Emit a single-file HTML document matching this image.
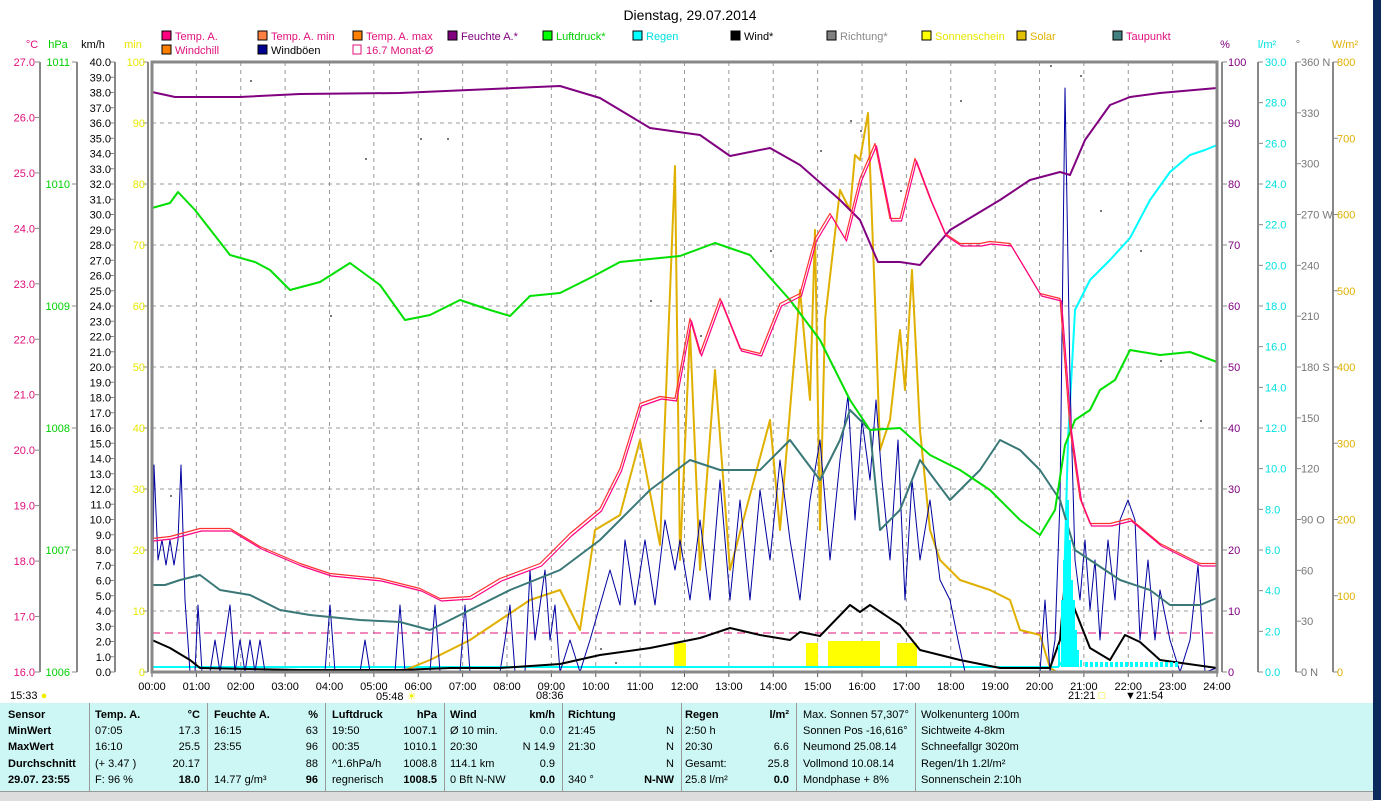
<!DOCTYPE html>
<html><head><meta charset="utf-8">
<style>
html,body{margin:0;padding:0;background:#fff;width:1381px;height:800px;overflow:hidden;font-family:"Liberation Sans",sans-serif;}
svg text{font-family:"Liberation Sans",sans-serif;font-size:11px;}
#tbl{position:absolute;left:0;top:703px;width:1373px;height:88px;background:#ccf7f4;font-size:11px;}
.c{position:absolute;top:0;height:88px;border-right:1px solid #999;}
.r{position:absolute;white-space:nowrap;}
.b{font-weight:bold;}
</style></head><body>
<svg id="s" width="1381" height="800" style="position:absolute;left:0;top:0">
<rect x="1373" y="0" width="8" height="800" fill="#0b2a5c"/>
<text x="690" y="20" text-anchor="middle" style="font-size:14px">Dienstag, 29.07.2014</text>
<g id="grid"></g>
<g id="axes"></g>
<line x1="152" y1="633" x2="1217" y2="633" stroke="#e0107a" stroke-dasharray="8,5" stroke-width="1"/>
<g fill="#ffff00">
<rect x="674" y="643" width="12" height="24"/>
<rect x="806" y="643" width="12" height="24"/>
<rect x="828" y="641" width="52" height="26"/>
<rect x="897" y="643" width="20" height="24"/>
</g>
<g fill="none" stroke-width="2" stroke-linejoin="round">
<polyline stroke="#00ffff" points="152,667 1058,667 1062,662 1068,440 1075,310 1090,280 1110,260 1130,238 1150,200 1170,172 1190,155 1205,150 1217,145"/>
<polyline stroke="#e0b000" points="400,672 430,660 470,640 500,620 530,600 560,590 580,630 595,530 620,515 640,440 660,545 675,166 680,560 690,330 700,570 715,370 730,570 770,420 780,530 800,290 810,400 815,230 820,530 825,320 840,190 850,210 855,155 860,160 868,113 875,300 880,450 890,420 900,330 905,390 912,270 920,430 930,530 940,560 960,580 990,590 1010,600 1020,630 1040,635 1050,668 1057,672"/>
<polyline stroke="#0000a0" stroke-width="1" points="152,672 154,465 158,560 162,540 166,565 170,540 174,565 178,540 181,465 185,600 190,672 195,672 198,605 202,672 210,672 215,640 220,672 230,605 235,672 240,640 245,672 250,640 255,672 260,640 265,672 325,672 330,605 335,672 360,672 365,640 370,672 395,672 400,605 405,672 430,672 435,605 440,672 460,672 465,605 470,672 500,672 505,640 510,605 515,672 525,672 530,570 535,640 540,605 545,570 550,640 555,605 560,672 570,640 580,672 590,640 600,605 610,570 620,605 625,540 635,605 645,540 655,605 665,520 675,570 680,540 690,600 700,520 710,600 720,480 730,600 740,500 750,600 760,490 770,560 780,460 790,540 800,600 810,500 820,440 830,560 840,460 848,395 855,520 862,420 870,480 876,400 882,480 890,560 898,440 905,600 912,480 920,560 930,500 940,580 950,600 958,640 965,672 1040,672 1045,600 1050,672 1055,640 1060,500 1065,88 1070,380 1075,560 1080,600 1085,540 1090,610 1095,560 1100,640 1108,540 1115,600 1120,520 1128,500 1135,520 1140,640 1148,560 1155,640 1160,590 1170,640 1180,672 1190,640 1198,565 1205,672 1217,668"/>
<polyline stroke="#3a7878" points="152,585 165,585 180,580 200,575 220,590 250,595 280,610 310,615 360,620 400,622 430,630 470,610 510,590 560,570 600,540 650,490 690,460 720,470 760,470 790,440 820,480 840,440 850,410 870,430 880,530 900,510 920,460 950,500 980,470 1000,440 1020,450 1040,470 1060,500 1075,550 1090,560 1120,580 1150,590 1170,605 1200,605 1217,598"/>
<polyline stroke="#00e000" points="152,208 170,203 178,192 195,210 230,255 255,262 270,270 290,290 320,282 350,263 380,285 405,320 430,315 460,300 490,310 510,316 530,296 560,293 590,278 620,262 680,256 715,243 750,255 790,300 820,340 850,400 870,430 900,428 930,455 960,470 990,490 1020,520 1040,535 1055,510 1065,445 1075,420 1090,410 1100,390 1115,380 1130,350 1160,355 1190,352 1217,362"/>
<polyline stroke="#800080" points="152,92 175,97 200,97 240,97 300,94 400,93 560,86 600,98 650,128 700,135 730,156 770,148 800,165 840,200 860,220 878,262 900,262 920,265 950,230 1000,200 1030,180 1060,172 1070,175 1085,140 1110,105 1130,97 1160,93 1217,88"/>
<polyline stroke="#ff3030" stroke-width="1.2" transform="translate(0,-1.5)" points="152,540 170,538 200,530 230,530 260,548 300,565 330,575 380,580 420,590 440,600 470,598 500,580 540,565 570,535 600,510 620,470 640,405 660,398 675,400 690,320 700,355 720,300 740,350 760,355 780,305 800,295 815,240 830,215 845,240 860,180 875,145 890,220 900,220 915,160 930,200 945,235 960,245 980,245 990,243 1010,245 1040,295 1060,300 1070,430 1080,500 1090,525 1110,525 1130,520 1160,545 1200,565 1217,565"/>
<polyline stroke="#ff0080" stroke-width="1.2" transform="translate(1.5,1)" points="152,540 170,538 200,530 230,530 260,548 300,565 330,575 380,580 420,590 440,600 470,598 500,580 540,565 570,535 600,510 620,470 640,405 660,398 675,400 690,320 700,355 720,300 740,350 760,355 780,305 800,295 815,240 830,215 845,240 860,180 875,145 890,220 900,220 915,160 930,200 945,235 960,245 980,245 990,243 1010,245 1040,295 1060,300 1070,430 1080,500 1090,525 1110,525 1130,520 1160,545 1200,565 1217,565"/>
<polyline stroke="#000" points="152,640 170,648 190,660 200,668 300,670 400,670 450,668 500,668 560,664 600,655 650,648 700,638 730,628 760,635 790,640 800,632 820,636 850,605 860,612 870,605 900,625 920,650 960,660 1000,668 1050,668 1060,640 1065,580 1075,610 1090,648 1110,660 1125,635 1140,642 1160,660 1217,668"/>
</g>
<g id="rainbars" fill="#00ffff"></g>
<g id="dots" fill="#777"></g>
<rect x="152" y="62" width="1065" height="610" fill="none" stroke="#888" stroke-width="3"/>
<g id="leg"></g>
</svg>
<div id="tbl">
<div class="c" style="left:0;width:89px"></div>
<div class="c" style="left:89px;width:118px"></div>
<div class="c" style="left:207px;width:118px"></div>
<div class="c" style="left:325px;width:119px"></div>
<div class="c" style="left:444px;width:118px"></div>
<div class="c" style="left:562px;width:119px"></div>
<div class="c" style="left:681px;width:115px"></div>
<div class="c" style="left:796px;width:119px"></div>
<div id="cells"></div>
</div>
<div style="position:absolute;left:0;top:791px;width:1373px;height:9px;background:#ddd;border-top:1px solid #999"></div>
<div style="position:absolute;left:10px;top:690px;font-size:11px">15:33 <span style="color:#ee0">●</span></div>
<div style="position:absolute;left:376px;top:690px;font-size:11px">05:48 <span style="color:#ee0">☀</span></div>
<div style="position:absolute;left:536px;top:690px;font-size:11px">08:36</div>
<div style="position:absolute;left:1068px;top:690px;font-size:11px">21:21 <span style="color:#ee0">□</span></div>
<div style="position:absolute;left:1125px;top:690px;font-size:11px">▼21:54</div>
<script>
const NS="http://www.w3.org/2000/svg";
function el(p,t,a,txt){const e=document.createElementNS(NS,t);for(const k in a)e.setAttribute(k,a[k]);if(txt!==undefined)e.textContent=txt;document.getElementById(p).appendChild(e);return e;}
const T=62,B=672,L=152,R=1217;
for(let h=1;h<24;h++){const x=L+h*(R-L)/24;el("grid","line",{x1:x,y1:T,x2:x,y2:B,stroke:"#999","stroke-dasharray":"4,4"});}
for(let i=1;i<10;i++){const y=B-i*61;el("grid","line",{x1:L,y1:y,x2:R,y2:y,stroke:"#999","stroke-dasharray":"4,4"});}
for(let h=0;h<=24;h++){const x=L+h*(R-L)/24;el("axes","line",{x1:x,y1:B,x2:x,y2:B+5,stroke:"#555"});el("axes","text",{x:x,y:690,"text-anchor":"middle"},(h<10?"0":"")+h+":00");}
function axis(ax,lx,n,lab,col,anchor,tickDir){
 el("axes","line",{x1:ax,y1:T,x2:ax,y2:B,stroke:"#888","stroke-width":2});
 for(let i=0;i<=n;i++){const y=T+i*(B-T)/n;el("axes","line",{x1:ax,y1:y,x2:ax+tickDir*5,y2:y,stroke:"#888"});el("axes","text",{x:lx,y:y+4,"text-anchor":anchor,fill:col},lab(i));}
}
axis(40,35,11,i=>(27-i).toFixed(1),"#e0107a","end",-1);
axis(77,70,5,i=>String(1011-i),"#00d000","end",-1);
axis(115,111,40,i=>(40-i).toFixed(1),"#000","end",-1);
axis(148,145,10,i=>String(100-i*10),"#e8e800","end",-1);
axis(1222,1228,10,i=>String(100-i*10),"#800080","start",1);
axis(1258,1265,15,i=>(30-i*2).toFixed(1),"#00e0e0","start",1);
const dirs={0:" N",3:" W",6:" S",9:" O",12:" N"};
axis(1296,1301,12,i=>(360-i*30)+(dirs[i]||""),"#777","start",1);
axis(1333,1337,8,i=>String(800-i*100),"#e0b000","start",1);
[["°C",32,"#e0107a"],["hPa",58,"#00d000"],["km/h",93,"#000"],["min",133,"#e8e800"],["%",1225,"#800080"],["l/m²",1267,"#00e0e0"],["°",1298,"#777"],["W/m²",1345,"#e0b000"]].forEach(a=>el("axes","text",{x:a[1],y:48,"text-anchor":"middle",fill:a[2]},a[0]));
const leg=[[162,40,"#ff0080","Temp. A.","#e0107a"],[258,40,"#ff8040","Temp. A. min","#e0107a"],[353,40,"#ff8000","Temp. A. max","#e0107a"],[448,40,"#800080","Feuchte A.*","#800080"],[543,40,"#00ff00","Luftdruck*","#00d000"],[633,40,"#00ffff","Regen","#00e0e0"],[731,40,"#000","Wind*","#000"],[827,40,"#808080","Richtung*","#888"],[922,40,"#ffff00","Sonnenschein","#e8e800"],[1017,40,"#e0c000","Solar","#e0b000"],[1113,40,"#408080","Taupunkt","#e0107a"],[162,54,"#ff8000","Windchill","#e0107a"],[258,54,"#000090","Windböen","#000"]];
leg.forEach(a=>{el("leg","rect",{x:a[0],y:a[1]-9,width:9,height:9,fill:a[2],stroke:"#000"});el("leg","text",{x:a[0]+13,y:a[1],fill:a[4]},a[3]);});
el("leg","rect",{x:353,y:45,width:8,height:9,fill:"#fff",stroke:"#e0107a"});el("leg","text",{x:366,y:54,fill:"#e0107a"},"16.7 Monat-Ø");
[[1058,645],[1061,600],[1063,560],[1065,520],[1067,500],[1069,540],[1071,580],[1073,600],[1075,630],[1077,650],[1080,660]].forEach(b=>el("rainbars","rect",{x:b[0],y:b[1],width:2,height:667-b[1]}));
for(let x=1085;x<1180;x+=5)el("rainbars","rect",{x:x,y:662,width:3,height:5});
[[170,495],[365,158],[420,138],[447,138],[600,648],[615,662],[650,300],[700,335],[770,250],[820,150],[850,120],[860,130],[900,190],[960,100],[1050,65],[1080,75],[1100,210],[1140,250],[1160,360],[1200,420],[330,315],[250,80]].forEach(d=>el("dots","rect",{x:d[0],y:d[1],width:2,height:2}));
const rows=[717,733,749,766,782];
function cell(x,r,t,cls,anchor){const d=document.createElement("div");d.className="r "+(cls||"");d.style.top=(rows[r]-703-8)+"px";if(anchor==="r"){d.style.right=(1373-x)+"px";}else d.style.left=x+"px";d.textContent=t;document.getElementById("cells").appendChild(d);}
const data=[
[8,"l",["Sensor","MinWert","MaxWert","Durchschnitt","29.07. 23:55"],true],
[95,"l",["Temp. A.","07:05","16:10","(+ 3.47 )","F: 96 %"]],[200,"r",["°C","17.3","25.5","20.17","18.0"]],
[214,"l",["Feuchte A.","16:15","23:55","","14.77 g/m³"]],[318,"r",["%","63","96","88","96"]],
[332,"l",["Luftdruck","19:50","00:35","^1.6hPa/h","regnerisch"]],[437,"r",["hPa","1007.1","1010.1","1008.8","1008.5"]],
[450,"l",["Wind","Ø 10 min.","20:30","114.1 km","0 Bft N-NW"]],[555,"r",["km/h","0.0","N 14.9","0.9","0.0"]],
[568,"l",["Richtung","21:45","21:30","","340 °"]],[674,"r",["","N","N","N","N-NW"]],
[685,"l",["Regen","2:50 h","20:30","Gesamt:","25.8 l/m²"]],[789,"r",["l/m²","","6.6","25.8","0.0"]],
[803,"l",["Max. Sonnen 57,307°","Sonnen Pos -16,616°","Neumond    25.08.14","Vollmond    10.08.14","Mondphase          + 8%"]],
[921,"l",["Wolkenunterg  100m","Sichtweite       4-8km","Schneefallgr  3020m","Regen/1h      1.2l/m²","Sonnenschein  2:10h"]]];
data.forEach(c=>c[2].forEach((t,r)=>{let cls="";if(r===0&&c[0]!==803&&c[0]!==921)cls="b";if(c[3])cls="b";if(r===4&&c[1]==="r")cls="b";cell(c[0],r,t,cls,c[1]);}));
</script>
</body></html>
